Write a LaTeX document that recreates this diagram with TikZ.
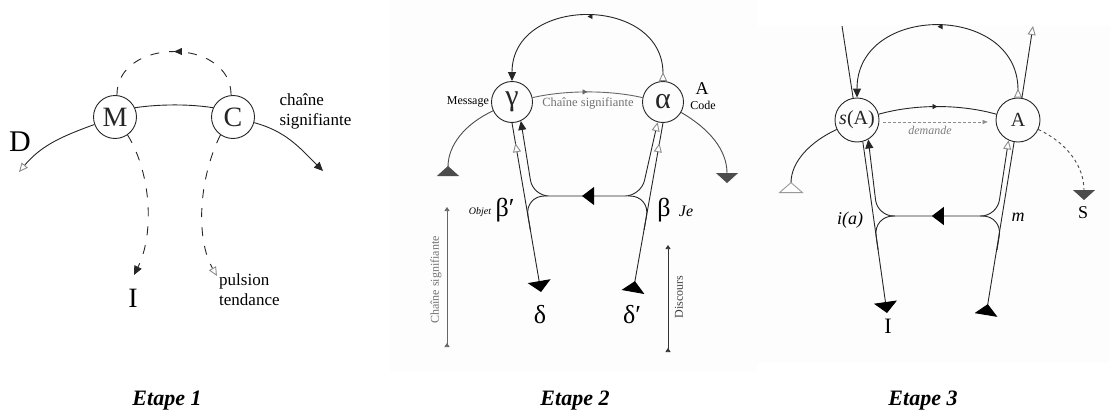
\documentclass[tikz,border=0pt]{standalone}
\usepackage{fontspec}
\setmainfont{Liberation Serif}
\usepackage{tikz}
\usetikzlibrary{math}
\usetikzlibrary{arrows.meta}
\usetikzlibrary{decorations.markings}

\newcommand\setfs[1]{\fontsize{#1}{#1}\selectfont}

\tikzset{
  ln/.style={line width=0.9pt, black!85},
  dsh/.style={ln, dash pattern=on 9pt off 10pt},
  circ/.style={ln, draw, circle, inner sep=0pt, minimum size=#1},
  etape/.style={font=\bfseries\itshape\setfs{22}},
  tipS/.tip={Triangle[width=8pt,length=9pt]},
  tipO/.tip={Triangle[width=8pt,length=9pt,fill=white,color=black!45]},
  tipOr/.tip={Triangle[width=8pt,length=9pt,fill=white,color=black!45,reversed]},
  tipB/.tip={Triangle[width=23pt,length=11pt,color=black]},
  tipBr/.tip={Triangle[width=23pt,length=11pt,color=black,reversed]},
  tipG/.tip={Triangle[width=22pt,length=10pt,color=black!70]},
  tipGr/.tip={Triangle[width=22pt,length=10pt,color=black!70,reversed]},
  tipW/.tip={Triangle[width=25pt,length=11pt,fill=white,color=black!40,reversed]},
  tipM/.tip={Triangle[width=18pt,length=12pt,color=black]},
  tipT/.tip={Triangle[width=5pt,length=5pt]},
  tipL/.tip={Triangle[width=7pt,length=8pt]},
  midtip/.style={postaction={decorate, decoration={markings,
    mark=at position #1 with {\arrow{tipT}}}}},
  midtipL/.style={postaction={decorate, decoration={markings,
    mark=at position #1 with {\arrow{tipL}}}}},
  bigmid/.style={postaction={decorate, decoration={markings,
    mark=at position #1 with {\arrow{tipM}}}}},
  backtip/.style={postaction={decorate, decoration={markings,
    mark=at position #1 with {\arrowreversed{tipO}}}}},
}

\begin{document}
\begin{tikzpicture}[x=1pt, y=-1pt]

\useasboundingbox (0,0) rectangle (1110,412);
\fill[black!0.7] (390,0) rectangle (757,372);
\fill[black!0.7] (757,26) rectangle (1110,363);

% Etape 1
\tikzmath{ \x = 0; }

\node[circ=43pt, font=\setfs{28}] (M) at (\x + 115, 117) {M};
\node[circ=43pt, font=\setfs{28}] (C) at (\x + 233, 117) {C};

\draw[ln] (M.25) .. controls (\x + 160, 104) and (\x + 190, 104) .. (C.155);

\coordinate (dEnd) at (\x + 19, 172);
\draw[ln, -{tipO}] (M.200) to[out=200, in=50] (dEnd);
\node[font=\setfs{30}] (lblD) at (\x + 20, 142) {D};

\coordinate (cEnd) at (\x + 323, 171);
\draw[ln, -{tipS}] (C.-15) to[out=-15, in=135] (cEnd);
\node[font=\fontsize{17}{20}\selectfont, align=left, anchor=west] (lblChaine) at (\x + 276, 111) {chaîne\\signifiante};

\draw[dsh, midtipL=0.5] (C.95) .. controls (\x + 231, 37) and (\x + 117, 37) .. (M.85);

\coordinate (iEnd) at (\x + 134, 275);
\draw[dsh, -{tipS}] (M.-55) .. controls (\x + 152, 175) and (\x + 154, 235) .. (iEnd);
\node[font=\setfs{28}] (lblI) at (\x + 133, 298) {I};

\coordinate (pEnd) at (\x + 217, 276);
\draw[dsh, -{tipO}] (C.-125) .. controls (\x + 198, 180) and (\x + 196, 240) .. (pEnd);
\node[font=\fontsize{17}{20}\selectfont, align=left, anchor=north west, inner sep=0pt] (lblPulsion) at (\x + 219, 274) {pulsion\\tendance};

\node[etape] (et1) at (\x + 167, 401) {Etape 1};

% Etape 2
\tikzmath{ \x = 370; }

\node[circ=41pt, font=\setfs{30}] (gamma) at (\x + 142, 102) {γ};
\node[circ=41pt, font=\setfs{30}] (alpha) at (\x + 293, 102) {α};

\node[font=\setfs{12}, anchor=east, inner sep=2pt] (lblMsg) at (gamma.west) {Message};
\node[font=\setfs{18}] (lblA) at (\x + 332, 89) {A};
\node[font=\setfs{12}] (lblCode) at (\x + 333, 105) {Code};

\draw[ln, {tipOr}-{tipS}, midtip=0.5] (alpha.north) .. controls (\x + 293, -5) and (\x + 142, -5) .. (gamma.north);

\draw[ln, black!60, midtip=0.5] (gamma.12) .. controls (\x + 195, 90) and (\x + 240, 90) .. (alpha.168);
\node[font=\setfs{12.5}, text=black!55] (lblCS) at (\x + 218, 103) {Chaîne signifiante};

\coordinate (gEnd) at (\x + 78, 176);
\draw[ln, black!70, -{tipGr}] (gamma.205) to[out=205, in=90] (gEnd);
\coordinate (aEnd) at (\x + 357, 183);
\draw[ln, black!70, -{tipG}] (alpha.-30) to[out=-30, in=90] (aEnd);

\coordinate (ilc) at (\x + 163, 196);
\coordinate (olc) at (\x + 154.6, 196);
\coordinate (irc) at (\x + 271, 196);
\coordinate (orc) at (\x + 280, 196);
\coordinate (dlEnd) at (\x + 171, 292);
\coordinate (drEnd) at (\x + 263, 292);

\draw[ln, backtip=0.12, -{tipB}] (gamma.south) -- (dlEnd);
\draw[ln, backtip=0.12, -{tipBr}] (alpha.south) -- (drEnd);
\draw[ln, rounded corners=16pt, {tipO}-{tipS}, bigmid=0.52] (alpha.-105) -- (irc) -- (ilc) -- (gamma.-65);
\draw[ln, rounded corners=20pt] (\x + 177, 196) -- (olc) -- (\x + 160.4, 230);
\draw[ln, rounded corners=20pt] (\x + 258, 196) -- (orc) -- (\x + 274, 230);

\node[font=\itshape\setfs{10}] (lblObjet) at (\x + 110, 212) {Objet};
\node[font=\setfs{26}] (lblBp) at (\x + 135, 210) {β′};
\node[font=\setfs{26}] (lblB) at (\x + 294, 210) {β};
\node[font=\itshape\setfs{16}] (lblJe) at (\x + 316, 211) {Je};
\node[font=\setfs{26}] (lblDl) at (\x + 170, 315) {δ};
\node[font=\setfs{26}] (lblDr) at (\x + 262, 315) {δ′};

\coordinate (csTop) at (\x + 77, 207);
\coordinate (csBot) at (\x + 77, 347);
\draw[black!60, line width=0.6pt, {Triangle[width=5pt,length=4pt,reversed]}-{Triangle[width=5pt,length=4pt]}] (csBot) -- (csTop);
\node[rotate=90, font=\setfs{12}, text=black!55] (lblCSv) at (\x + 66, 280) {Chaîne signifiante};

\coordinate (dsTop) at (\x + 298, 245);
\coordinate (dsBot) at (\x + 298, 352);
\draw[black!80, line width=0.6pt, {Triangle[width=5pt,length=4pt,reversed]}-{Triangle[width=5pt,length=4pt]}] (dsBot) -- (dsTop);
\node[rotate=90, font=\setfs{12}, text=black!75] (lblDisc) at (\x + 309, 297) {Discours};

\node[etape] (et2) at (\x + 205, 401) {Etape 2};

% Etape 3
\tikzmath{ \x = 740; }

\node[circ=44pt, font=\setfs{20}] (sA) at (\x + 117, 120) {\textit{s}(A)};
\node[circ=44pt, font=\setfs{20}] (A) at (\x + 278, 120) {A};

\draw[ln, {tipOr}-{tipS}, midtip=0.5] (A.north) .. controls (\x + 278, 3) and (\x + 117, 3) .. (sA.north);
\coordinate (tl) at (\x + 102, 26);
\draw[ln] (tl) -- (sA.100);
\coordinate (tr) at (\x + 293, 26);
\draw[ln, -{tipO}] (A.80) -- (tr);

\draw[ln, midtip=0.5] (sA.15) .. controls (\x + 175, 104) and (\x + 220, 104) .. (A.165);
\draw[black!45, densely dashed, -{Triangle[width=4pt,length=5pt]}, shorten <=4pt, shorten >=8pt] (sA.-5) -- (A.185);
\node[font=\itshape\setfs{12}, text=black!50] (lblDem) at (\x + 190, 130) {demande};

\coordinate (sEnd) at (\x + 51, 193);
\draw[ln, -{tipW}] (sA.205) to[out=205, in=90] (sEnd);
\coordinate (SEnd) at (\x + 344, 200);
\draw[ln, black!70, dashed, -{tipG}] (A.-25) to[out=-25, in=90] (SEnd);
\node[font=\setfs{18}] (lblS) at (\x + 343, 213) {S};

\coordinate (ilc3) at (\x + 137.5, 216);
\coordinate (olc3) at (\x + 133.3, 216);
\coordinate (irc3) at (\x + 257, 216);
\coordinate (orc3) at (\x + 262.4, 216);
\coordinate (ilEnd) at (\x + 147, 313);
\coordinate (irEnd) at (\x + 246, 315);

\draw[ln, -{tipB}] (sA.-75) -- (ilEnd);
\draw[ln, -{tipBr}] (A.-100) -- (irEnd);
\draw[ln, rounded corners=16pt, {tipO}-{tipS}, bigmid=0.52] (A.-115) -- (irc3) -- (ilc3) -- (sA.-60);
\draw[ln, rounded corners=20pt] (\x + 155, 216) -- (olc3) -- (\x + 138.1, 250);
\draw[ln, rounded corners=20pt] (\x + 240, 216) -- (orc3) -- (\x + 257, 250);

\node[font=\itshape\setfs{18}] (lblIa) at (\x + 110, 220) {i(a)};
\node[font=\itshape\setfs{18}] (lblm) at (\x + 278, 217) {m};
\node[font=\setfs{22}] (lblI3) at (\x + 148, 326) {I};

\node[etape] (et3) at (\x + 183, 401) {Etape 3};

\end{tikzpicture}
\end{document}
